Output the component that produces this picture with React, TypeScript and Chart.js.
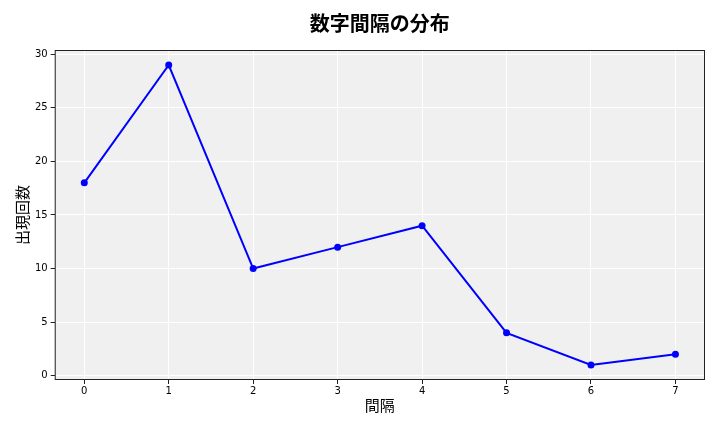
import React, { useEffect, useRef } from "react";
import { Chart, registerables } from "chart.js";

Chart.register(...registerables);

const intervals = [0, 1, 2, 3, 4, 5, 6, 7];
const counts = [18, 29, 10, 12, 14, 4, 1, 2];
const xTicks = [0, 1, 2, 3, 4, 5, 6, 7];
const yTicks = [0, 5, 10, 15, 20, 25, 30];
const TITLE = "数字間隔の分布";

const FONT = "'DejaVu Sans', 'Noto Sans CJK JP', sans-serif";
const CJK = "'Noto Sans CJK JP', 'DejaVu Sans', sans-serif";

const bgPlugin = {
  id: "plotBg",
  beforeDraw(chart: any) {
    const { ctx, chartArea } = chart;
    if (!chartArea) return;
    ctx.save();
    ctx.fillStyle = "#f0f0f0";
    ctx.fillRect(chartArea.left, chartArea.top, chartArea.right - chartArea.left, chartArea.bottom - chartArea.top);
    ctx.restore();
  },
  afterDatasetsDraw(chart: any) {
    const { ctx, chartArea } = chart;
    ctx.save();
    ctx.strokeStyle = "#222222";
    ctx.lineWidth = 1;
    ctx.strokeRect(chartArea.left + 0.5, chartArea.top + 0.5, chartArea.right - chartArea.left - 1, chartArea.bottom - chartArea.top - 1);
    ctx.restore();
  },
  afterDraw(chart: any) {
    const { ctx, chartArea } = chart;
    const tb = chart.titleBlock;
    const y = (tb ? tb.top : 7) + 4 + 12;
    ctx.save();
    ctx.fillStyle = "#000";
    ctx.font = `bold 20px ${CJK}`;
    ctx.textAlign = "center";
    ctx.textBaseline = "middle";
    ctx.fillText(TITLE, (chartArea.left + chartArea.right) / 2, y);
    ctx.restore();
  },
};

export default function App() {
  const ref = useRef<HTMLCanvasElement>(null);
  useEffect(() => {
    if (!ref.current) return;
    const chart = new Chart(ref.current, {
      type: "line",
      data: {
        datasets: [
          {
            data: intervals.map((x, i) => ({ x, y: counts[i] })),
            borderColor: "#0000ff",
            backgroundColor: "#0000ff",
            borderWidth: 2,
            pointRadius: 3.5,
            pointHoverRadius: 3.5,
            pointBorderWidth: 0,
            tension: 0,
          },
        ],
      },
      options: {
        animation: false,
        responsive: false,
        devicePixelRatio: 1,
        layout: { padding: { left: 13, right: 15, top: 7, bottom: 19 } },
        plugins: {
          legend: { display: false },
          tooltip: { enabled: false },
          title: {
            display: true,
            text: TITLE,
            color: "rgba(0,0,0,0)",
            font: { family: CJK, size: 20, weight: "bold" },
            padding: { top: 4, bottom: 15 },
          },
        },
        scales: {
          x: {
            type: "linear",
            min: -0.35,
            max: 7.35,
            afterBuildTicks: (s: any) => {
              s.ticks = xTicks.map((v) => ({ value: v }));
            },
            ticks: { color: "#000", font: { family: FONT, size: 10 }, padding: 1, autoSkip: false },
            grid: { color: "#ffffff", lineWidth: 1, tickColor: "#222", tickLength: 4, drawOnChartArea: true },
            border: { display: false },
            title: { display: true, text: "間隔", color: "#000", font: { family: CJK, size: 15, lineHeight: 1.0 }, padding: { top: 0, bottom: 0 } },
          },
          y: {
            type: "linear",
            min: -0.4,
            max: 30.4,
            afterBuildTicks: (s: any) => {
              s.ticks = yTicks.map((v) => ({ value: v }));
            },
            ticks: { color: "#000", font: { family: FONT, size: 10 }, padding: 3 },
            grid: { color: "#ffffff", lineWidth: 1, tickColor: "#222", tickLength: 4 },
            border: { display: false },
            title: { display: true, text: "出現回数", color: "#000", font: { family: CJK, size: 15 }, padding: { top: 0, bottom: 1 } },
          },
        },
      },
      plugins: [bgPlugin],
    });
    return () => chart.destroy();
  }, []);
  return (
    <div style={{ position: "fixed", left: 0, top: 0, width: 720, height: 432, background: "#fff" }}>
      <canvas ref={ref} width={720} height={432} style={{ width: 720, height: 432 }} />
    </div>
  );
}
